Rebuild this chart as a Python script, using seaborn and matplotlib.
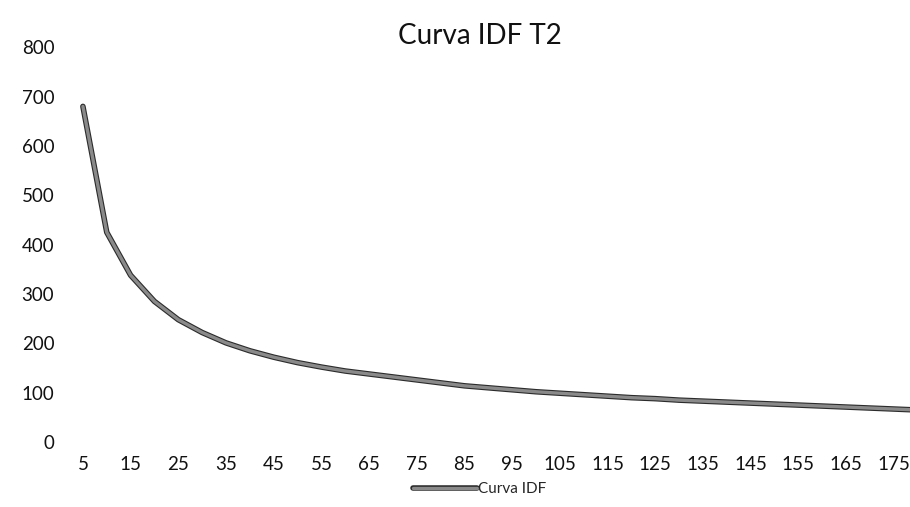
import pandas as pd
import matplotlib.pyplot as plt
import matplotlib.patheffects as pe
import seaborn as sns

# Duración (min) e intensidad de la curva IDF
duracion = [5, 10, 15, 20, 25, 30, 35, 40, 45, 50, 55, 60, 65, 70, 75, 80, 85, 90,
            95, 100, 105, 110, 115, 120, 125, 130, 135, 140, 145, 150, 155, 160,
            165, 170, 175, 180]
intensidad = [680, 425, 338, 285, 248, 222, 201, 185, 172, 161, 152, 144, 138, 132,
              126, 120, 114, 110, 106, 102, 99, 96, 93, 90, 88, 85, 83, 81, 79, 77,
              75, 73, 71, 69, 67, 65]
ticks_x = list(range(5, 180, 10))
ticks_y = list(range(0, 900, 100))

data = pd.DataFrame({'duracion': duracion, 'intensidad': intensidad})

sns.set_theme(style='white')
plt.rcParams['font.family'] = ['Lato', 'DejaVu Sans']

fig = plt.figure(figsize=(9.1, 5.07), dpi=100)
ax = fig.add_axes([0.078, 0.128, 0.922, 0.779])

sns.lineplot(data=data, x='duracion', y='intensidad', ax=ax, color='#8a8a8a',
             linewidth=2.4, label='Curva IDF',
             path_effects=[pe.Stroke(linewidth=4.0, foreground='#2b2b2b'), pe.Normal()])

ax.set_xlim(2.5, 178.4)
ax.set_ylim(0, 800)
ax.set_xticks(ticks_x)
ax.set_yticks(ticks_y)
ax.tick_params(axis='both', length=0, labelsize=13.5, colors='#111111')
ax.tick_params(axis='y', pad=12)
ax.tick_params(axis='x', pad=10)
ax.set_xlabel('')
ax.set_ylabel('')
for s in ax.spines.values():
    s.set_visible(False)
ax.grid(False)

fig.text(0.527, 0.955, 'Curva IDF T2', ha='center', va='top', fontsize=20, color='#111111')

ax.legend(loc='lower center', bbox_to_anchor=(0.527, 0.0), bbox_transform=fig.transFigure,
          frameon=False, fontsize=11, handlelength=4.2, handletextpad=0.1,
          borderpad=0.2)

fig.savefig('out.png', dpi=100)
